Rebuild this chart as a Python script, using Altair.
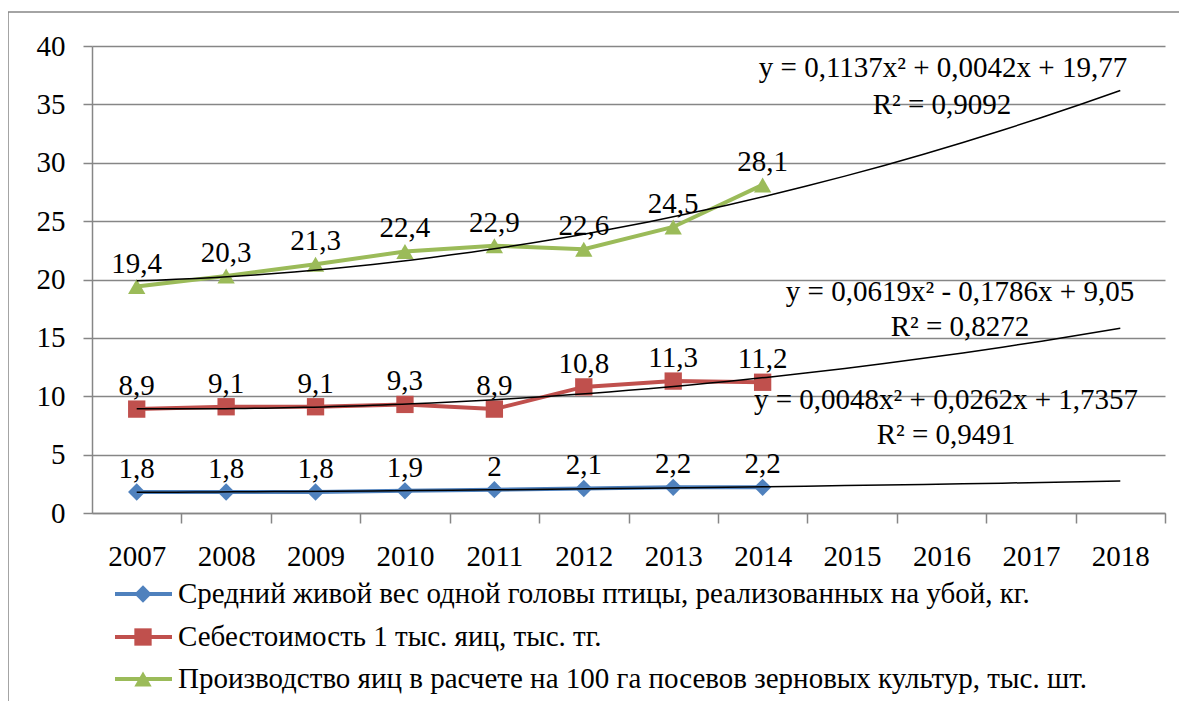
import altair as alt
import pandas as pd

# ---- data ----
years = [2007, 2008, 2009, 2010, 2011, 2012, 2013, 2014]
weight = [1.8, 1.8, 1.8, 1.9, 2.0, 2.1, 2.2, 2.2]
cost = [8.9, 9.1, 9.1, 9.3, 8.9, 10.8, 11.3, 11.2]
eggs = [19.4, 20.3, 21.3, 22.4, 22.9, 22.6, 24.5, 28.1]
series_names = [
    "Средний живой вес одной головы птицы, реализованных на убой, кг.",
    "Себестоимость 1 тыс. яиц, тыс. тг.",
    "Производство яиц в расчете на 100 га посевов зерновых культур, тыс. шт.",
]
axis_years = list(range(2006, 2019))
y_ticks = [0, 5, 10, 15, 20, 25, 30, 35, 40]
equations = [
    "y = 0,0048x² + 0,0262x + 1,7357",
    "y = 0,0619x² - 0,1786x + 9,05",
    "y = 0,1137x² + 0,0042x + 19,77",
]
r2_texts = ["R² = 0,9491", "R² = 0,8272", "R² = 0,9092"]

# ---- style ----
colors = ["#4F81BD", "#C0504D", "#9BBB59"]
shapes = ["diamond", "square", "triangle-up"]
FONT = "Liberation Serif"
W, H = 1073, 467
BAND = W / 12
GRAY = "#868686"

rows = []
for name, vals in zip(series_names, [weight, cost, eggs]):
    for yr, v in zip(years, vals):
        rows.append({"series": name, "year": yr, "value": v})
df = pd.DataFrame(rows)

color = alt.Color("series:N", scale=alt.Scale(domain=series_names, range=colors), legend=None)
shape = alt.Shape("series:N", scale=alt.Scale(domain=series_names, range=shapes), legend=None)

xenc = alt.X(
    "year:Q",
    title=None,
    scale=alt.Scale(domain=[2006.5, 2018.5], nice=False, zero=False),
    axis=alt.Axis(
        values=axis_years,
        format="d",
        labelExpr="datum.value < 2007 ? '' : datum.label",
        tickOffset=BAND / 2,
        labelOffset=-BAND / 2,
        grid=False,
        labelFlush=False,
        labelOverlap=False,
        tickSize=10,
        labelPadding=19,
        labelBaseline="top",
        labelFontSize=29,
        labelFont=FONT,
        domainColor=GRAY,
        tickColor=GRAY,
        domainWidth=1.5,
        tickWidth=1.5,
    ),
)
yenc = alt.Y(
    "value:Q",
    title=None,
    scale=alt.Scale(domain=[0, 40], nice=False),
    axis=alt.Axis(
        values=y_ticks, tickSize=9, labelPadding=18, labelFontSize=29, labelFont=FONT,
        domainColor=GRAY, tickColor=GRAY, gridColor=GRAY,
        domainWidth=1.5, tickWidth=1.5, gridWidth=1.5,
    ),
)

base = alt.Chart(df)

lines = base.mark_line(strokeWidth=4).encode(x=xenc, y=yenc, color=color, detail="series:N")
points = base.mark_point(filled=True, size=300, opacity=1).encode(
    x="year:Q", y="value:Q", color=color, shape=shape
)
trend = (
    base.transform_calculate(t="datum.year - 2006")
    .transform_regression("t", "value", groupby=["series"], method="poly", order=2, extent=[1, 12])
    .transform_calculate(year="datum.t + 2006")
    .mark_line(color="black", strokeWidth=1.5)
    .encode(x="year:Q", y="value:Q", detail="series:N")
)
labels = (
    base.transform_calculate(label="replace(toString(datum.value), '.', ',')")
    .mark_text(fontSize=29, baseline="alphabetic", dy=-14, font=FONT)
    .encode(x="year:Q", y="value:Q", text="label:N")
)

one = pd.DataFrame({"k": [0]})
border = alt.Chart(one).mark_rect(fillOpacity=0, stroke=GRAY, strokeWidth=1.5).encode(
    x=alt.value(-84), x2=alt.value(1120), y=alt.value(-34), y2=alt.value(700)
)

eq_pos = [((854, 354), (854, 389)), ((868, 246), (868, 281)), ((851, 22), (850, 59))]
eq_layers = []
for eq, r2, ((ex, ey), (rx, ry)) in zip(equations, r2_texts, eq_pos):
    d = pd.DataFrame({"eq": [eq], "r2": [r2]})
    eq_layers.append(
        alt.Chart(d).mark_text(fontSize=29, align="center", baseline="middle", font=FONT).encode(
            text="eq:N", x=alt.value(ex), y=alt.value(ey)
        )
    )
    eq_layers.append(
        alt.Chart(d).mark_text(fontSize=29, align="center", baseline="middle", font=FONT).encode(
            text="r2:N", x=alt.value(rx), y=alt.value(ry)
        )
    )

leg_y = [548, 591, 633]
leg_layers = []
for name, c, s, ly in zip(series_names, colors, shapes, leg_y):
    d = pd.DataFrame({"series": [name]})
    leg_layers.append(
        alt.Chart(d).mark_rule(strokeWidth=4, color=c).encode(
            x=alt.value(23), x2=alt.value(80), y=alt.value(ly)
        )
    )
    leg_layers.append(
        alt.Chart(d).mark_point(filled=True, size=300, opacity=1, color=c, shape=s).encode(
            x=alt.value(51), y=alt.value(ly)
        )
    )
    leg_layers.append(
        alt.Chart(d).mark_text(fontSize=29, align="left", baseline="middle", font=FONT).encode(
            text="series:N", x=alt.value(86), y=alt.value(ly)
        )
    )

chart = (
    alt.layer(border, lines, points, trend, labels, *eq_layers, *leg_layers)
    .properties(
        width=W,
        height=H,
        autosize=alt.AutoSizeParams(type="none"),
        padding={"left": 84, "top": 38, "right": 14, "bottom": 188},
    )
    .configure_view(stroke=None)
)

chart.save("out.html", embed_options={"renderer": "svg", "actions": False})
